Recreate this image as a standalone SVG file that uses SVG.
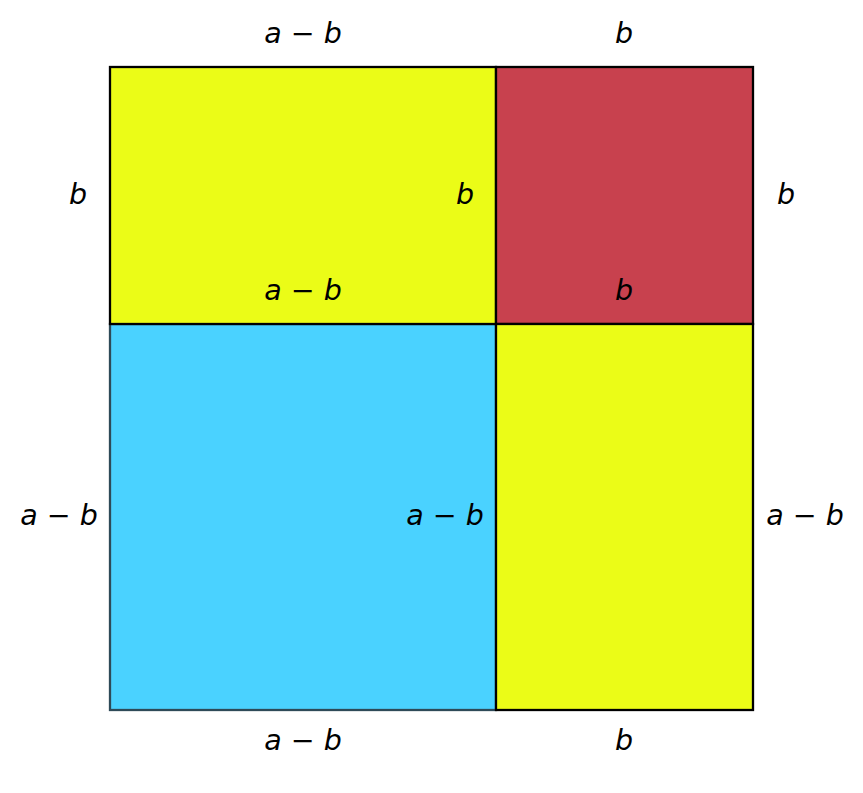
<svg xmlns="http://www.w3.org/2000/svg" width="863" height="793" viewBox="0 0 863 793">
<style>
.lbl{font-family:"DejaVu Sans",sans-serif;font-style:italic;font-size:28.5px;fill:#000;text-anchor:middle}
.sq{stroke:#000;stroke-width:2.3}
</style>
<rect width="863" height="793" fill="#fff"/>
<g id="blue"><rect x="110" y="324" width="386" height="386" fill="#4AD2FF" stroke="#2e4a58" stroke-width="2.3"/></g>
<g id="yellowTop"><rect class="sq" x="110" y="67" width="386" height="257" fill="#EBFC17"/></g>
<g id="red"><rect class="sq" x="496" y="67" width="257" height="257" fill="#C8414E"/></g>
<g id="yellowRight"><rect class="sq" x="496" y="324" width="257" height="386" fill="#EBFC17"/></g>
<g id="labels">
<text class="lbl" x="303" y="43">a − b</text>
<text class="lbl" x="624" y="43">b</text>
<text class="lbl" x="78" y="204">b</text>
<text class="lbl" x="465" y="204">b</text>
<text class="lbl" x="786" y="204">b</text>
<text class="lbl" x="303" y="300">a − b</text>
<text class="lbl" x="624" y="300">b</text>
<text class="lbl" x="59" y="525">a − b</text>
<text class="lbl" x="445" y="525">a − b</text>
<text class="lbl" x="805" y="525">a − b</text>
<text class="lbl" x="303" y="750">a − b</text>
<text class="lbl" x="624" y="750">b</text>
</g>
</svg>
